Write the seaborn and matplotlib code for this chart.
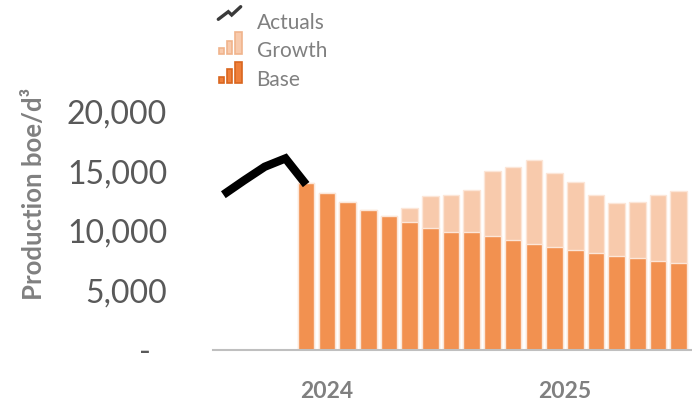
import matplotlib
matplotlib.use('Agg')
import matplotlib.pyplot as plt
import seaborn as sns
import numpy as np
import pandas as pd
from matplotlib.ticker import FuncFormatter, FixedLocator
from matplotlib.patches import Rectangle
from matplotlib.lines import Line2D

# ---------------- data ----------------
months = ['Feb-24', 'Mar-24', 'Apr-24', 'May-24', 'Jun-24', 'Jul-24', 'Aug-24',
          'Sep-24', 'Oct-24', 'Nov-24', 'Dec-24',
          'Jan-25', 'Feb-25', 'Mar-25', 'Apr-25', 'May-25', 'Jun-25', 'Jul-25',
          'Aug-25', 'Sep-25', 'Oct-25', 'Nov-25', 'Dec-25']
year_labels = ['2024', '2025']

actual_months = ['Feb-24', 'Mar-24', 'Apr-24', 'May-24', 'Jun-24']
actuals = [13050, 14250, 15400, 16100, 13900]

forecast_months = months[4:]
base = [14000, 13230, 12420, 11750, 11220, 10740, 10290, 9900, 9900, 9620,
        9260, 8930, 8640, 8390, 8140, 7910, 7720, 7520, 7300]
growth = [0, 0, 0, 0, 0, 1230, 2630, 3100, 3520, 5420,
          6150, 7070, 6210, 5710, 4920, 4420, 4750, 5520, 6070]

y_ticks = [0, 5000, 10000, 15000, 20000]

# ---------------- colours ----------------
C_BASE = '#F29150'
C_GROWTH = '#F8CAAC'
C_EDGE = '#FCE6D8'
C_TEXT = '#808080'
C_TICK = '#595959'

sns.set_theme(style='white')
plt.rcParams['font.family'] = ['Lato', 'DejaVu Sans']

W, H = 692, 401
fig = plt.figure(figsize=(W / 100, H / 100), dpi=100)
ax = fig.add_axes([213 / W, (H - 350) / H, (W - 213) / W, (350 - 112) / H])

df = pd.DataFrame({'Month': forecast_months, 'Base': base, 'Growth': growth})
df['Total'] = df['Base'] + df['Growth']

sns.barplot(data=df, x='Month', y='Total', order=months, color=C_GROWTH,
            width=0.8, edgecolor=C_EDGE, linewidth=1.0, saturation=1, ax=ax)
sns.barplot(data=df, x='Month', y='Base', order=months, color=C_BASE,
            width=0.8, edgecolor=C_EDGE, linewidth=1.0, saturation=1, ax=ax)

dfa = pd.DataFrame({'Month': actual_months, 'Actual': actuals})
dfa['pos'] = [months.index(m) for m in actual_months]
sns.lineplot(data=dfa, x='pos', y='Actual', color='black', linewidth=6,
             solid_joinstyle='miter', solid_capstyle='butt', ax=ax)

ax.set_ylim(0, 20000)
ax.set_xlim(-0.5, -0.5 + (W - 213) / 20.7)
ax.yaxis.set_major_locator(FixedLocator(y_ticks))
ax.yaxis.set_major_formatter(FuncFormatter(lambda v, p: '-  ' if v == 0 else f'{v:,.0f}'))
ax.tick_params(axis='y', length=0, pad=33, labelsize=23, labelcolor=C_TICK)

# year labels centred under each year's months
year_pos = []
for y in year_labels:
    idx = [i for i, m in enumerate(months) if m.endswith(y[-2:])]
    year_pos.append(np.mean(idx))
ax.set_xticks(year_pos)
ax.set_xticklabels(year_labels, fontsize=16.5, fontweight='bold', color=C_TEXT)
ax.tick_params(axis='x', length=0, pad=22)
ax.set_xlabel('')
ax.set_ylabel('')

for s in ['top', 'right', 'left']:
    ax.spines[s].set_visible(False)
ax.spines['bottom'].set_color('#BFBFBF')
ax.spines['bottom'].set_linewidth(1.5)

fig.text(34 / W, 1 - 194 / H, 'Production boe/d³', rotation=90, ha='center',
         va='center', fontsize=18.5, fontweight='bold', color=C_TEXT)

# ---------------- custom legend ----------------
lax = fig.add_axes([0, 0, 1, 1])
lax.set_xlim(0, W)
lax.set_ylim(H, 0)
lax.axis('off')
lax.patch.set_alpha(0)

lax.add_line(Line2D([218.3, 228.3, 231.7, 240.7], [19.3, 11.7, 15, 6.7],
                    color='#3A3A3A', linewidth=2.4, solid_joinstyle='miter'))
for (x0, x1, yt) in [(219.3, 224, 48.3), (226.7, 231.7, 40.7), (235, 241.7, 32.3)]:
    lax.add_patch(Rectangle((x0, yt), x1 - x0, 54.3 - yt, facecolor=C_GROWTH,
                            edgecolor='#F0B48C', linewidth=1.2))
for (x0, x1, yt) in [(219.3, 224, 76.7), (226.7, 231.7, 69.3), (235, 241.7, 61.7)]:
    lax.add_patch(Rectangle((x0, yt), x1 - x0, 83.3 - yt, facecolor='#EF7F3A',
                            edgecolor='#D9661F', linewidth=1.2))

for label, yb in [('Actuals', 29.3), ('Growth', 57.3), ('Base', 86)]:
    lax.text(256.5, yb, label, ha='left', va='baseline', fontsize=15, color=C_TEXT)

fig.savefig('out.png', dpi=100)
